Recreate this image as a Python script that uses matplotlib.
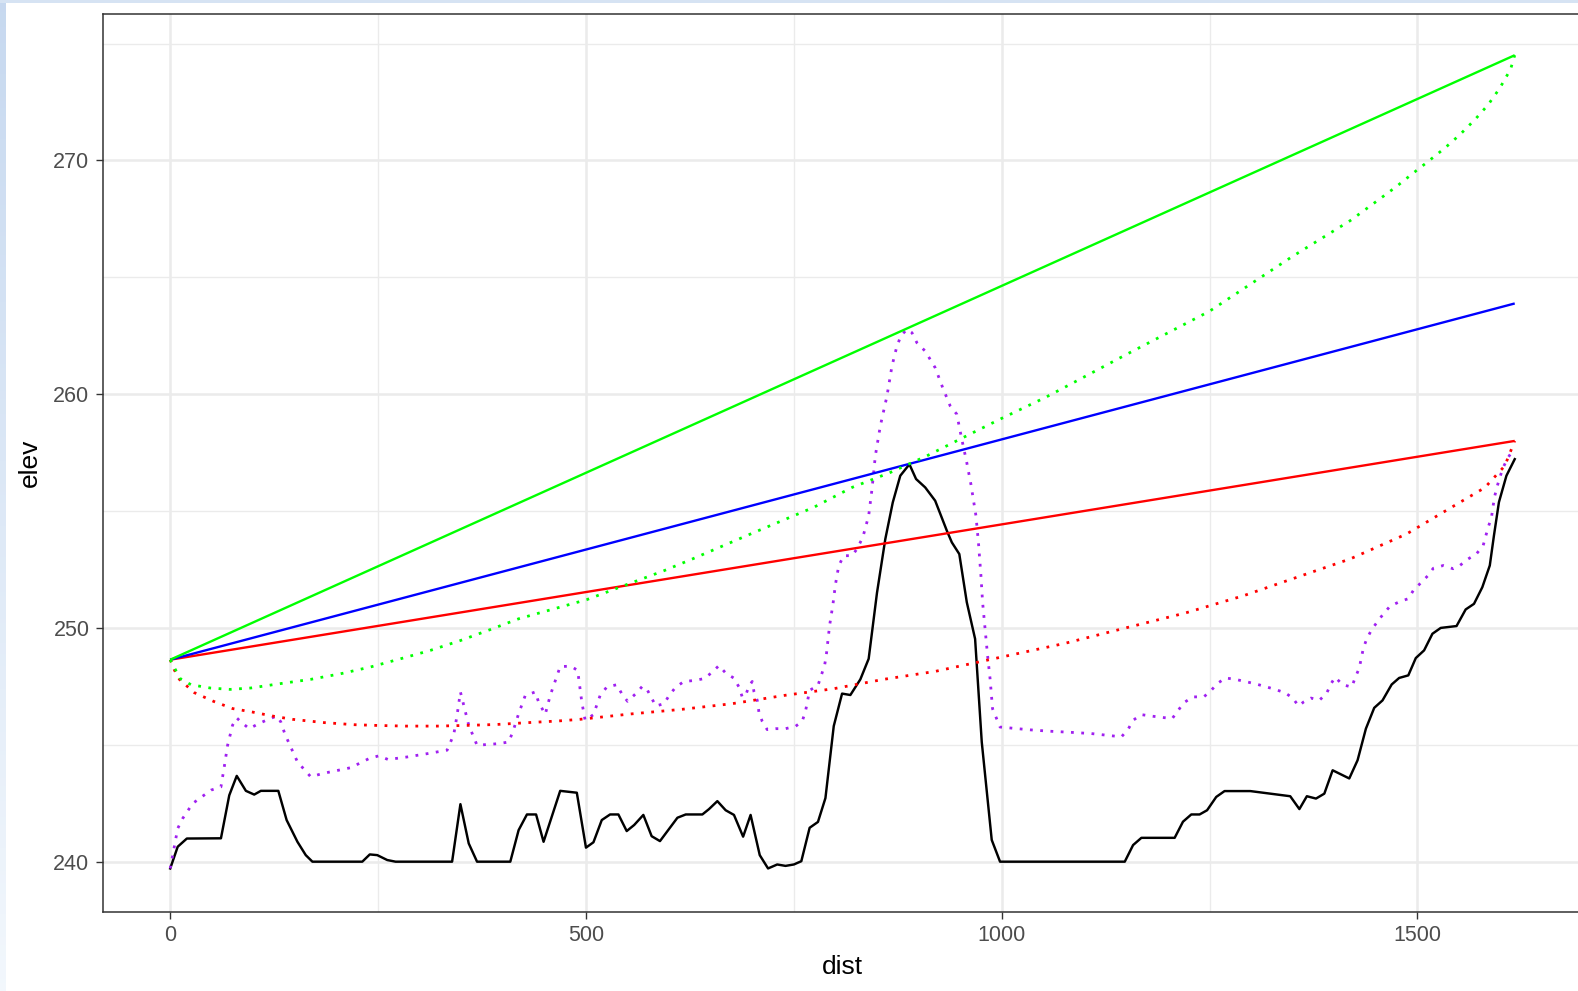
import matplotlib.pyplot as plt
import numpy as np

plt.rcParams['font.family'] = ['Liberation Sans', 'DejaVu Sans']

# ----------------------------------------------------------------------------
# terrain profile (black line)
dist = [0, 9, 20, 61, 71, 80, 91, 101, 109, 130, 140, 153, 163, 171, 231, 240,
        249, 261, 271, 339, 349, 359, 369, 409, 419, 429, 440, 449, 469, 489,
        500, 509, 519, 529, 539, 549, 558, 569, 579, 589, 610, 620, 640, 648,
        658, 668, 678, 689, 698, 709, 719, 730, 740, 750, 759, 769, 779, 788,
        798, 808, 818, 830, 840, 850, 860, 869, 878, 889, 897, 908, 920, 934,
        940, 949, 958, 968, 976, 988, 998, 1148, 1158, 1168, 1208, 1218, 1228,
        1238, 1247, 1258, 1268, 1299, 1347, 1358, 1367, 1378, 1388, 1398, 1418,
        1428, 1438, 1448, 1458, 1469, 1478, 1489, 1498, 1508, 1518, 1528, 1547,
        1558, 1568, 1578, 1587, 1592, 1598, 1607, 1617]
elev = [239.71, 240.64, 240.99, 241.0, 242.84, 243.67, 243.03, 242.87, 243.03,
        243.03, 241.78, 240.85, 240.28, 240.0, 240.0, 240.31, 240.28, 240.07,
        240.0, 240.0, 242.46, 240.78, 240.0, 240.0, 241.35, 242.02, 242.02,
        240.85, 243.03, 242.95, 240.6, 240.83, 241.78, 242.02, 242.02, 241.31,
        241.57, 242.0, 241.09, 240.88, 241.88, 242.02, 242.02, 242.25, 242.59,
        242.2, 242.0, 241.07, 242.0, 240.28, 239.71, 239.88, 239.82, 239.88,
        240.02, 241.45, 241.7, 242.72, 245.8, 247.19, 247.13, 247.8, 248.68,
        251.5, 253.8, 255.37, 256.51, 257.0, 256.37, 256.01, 255.44, 254.16,
        253.66, 253.16, 251.1, 249.53, 245.12, 240.93, 240.0, 240.0, 240.71,
        241.02, 241.02, 241.71, 242.02, 242.02, 242.2, 242.77, 243.02, 243.02,
        242.8, 242.25, 242.8, 242.7, 242.91, 243.91, 243.56, 244.34, 245.69,
        246.58, 246.9, 247.58, 247.86, 247.97, 248.71, 249.04, 249.75, 250.0,
        250.08, 250.79, 251.03, 251.74, 252.67, 253.95, 255.38, 256.51, 257.22]

# terrain + clearance (purple dotted)
clear_dist = [0, 9, 15, 27, 49, 61, 65, 69, 75, 80, 85, 95, 105, 116, 128, 133,
              138, 153, 169, 183, 217, 239, 251, 262, 285, 309, 333, 341, 345,
              349, 353, 359, 369, 395, 407, 412, 419, 427, 439, 443, 451, 457,
              465, 469, 482, 490, 495, 499, 509, 517, 525, 537, 543, 550, 560,
              568, 574, 584, 594, 600, 608, 618, 630, 642, 651, 660, 668, 678,
              684, 688, 692, 696, 700, 702, 706, 708, 712, 718, 728, 740, 752,
              760, 764, 769, 779, 783, 787, 789, 793, 797, 800, 804, 810, 820,
              826, 833, 840, 844, 848, 854, 862, 868, 874, 879, 886, 892, 898,
              908, 920, 929, 938, 946, 952, 958, 963, 969, 972, 975, 977, 980,
              983, 986, 989, 998, 1010, 1034, 1058, 1080, 1108, 1144, 1152,
              1158, 1168, 1182, 1205, 1211, 1219, 1230, 1243, 1251, 1259, 1269,
              1281, 1305, 1329, 1341, 1350, 1357, 1363, 1372, 1382, 1391, 1396,
              1401, 1410, 1421, 1425, 1430, 1435, 1439, 1445, 1455, 1467, 1479,
              1489, 1495, 1505, 1513, 1519, 1531, 1543, 1551, 1561, 1571, 1579,
              1585, 1589, 1591, 1593, 1596, 1599, 1603, 1609, 1614, 1617]
clear_elev = [239.71, 241.42, 241.85, 242.49, 243.06, 243.2, 244.06, 244.98,
              245.84, 246.15, 245.98, 245.69, 245.88, 246.06, 246.23, 245.98,
              245.45, 244.27, 243.63, 243.77, 244.02, 244.41, 244.53, 244.37,
              244.48, 244.62, 244.77, 245.44, 246.27, 247.26, 246.69, 245.84,
              244.98, 245.05, 245.12, 245.55, 246.33, 247.11, 247.26, 246.83,
              246.3, 247.11, 247.94, 248.35, 248.36, 248.18, 246.83, 246.05,
              246.29, 247.11, 247.47, 247.57, 247.19, 246.86, 247.19, 247.51,
              247.33, 246.66, 246.76, 247.11, 247.47, 247.71, 247.75, 247.83,
              248.08, 248.39, 248.07, 247.85, 247.47, 247.04, 247.11, 247.51,
              247.71, 247.28, 246.9, 246.4, 246.0, 245.65, 245.69, 245.69,
              245.79, 246.0, 246.43, 247.33, 247.54, 247.97, 248.4, 248.82,
              250.1, 251.0, 251.85, 252.66, 253.09, 253.09, 253.38, 253.88,
              254.8, 255.94, 257.36, 258.64, 259.92, 261.2, 262.06, 262.51,
              262.77, 262.63, 262.2, 261.84, 261.13, 260.28, 259.5, 259.14,
              258.07, 257.07, 256.14, 254.8, 253.66, 252.24, 251.1, 249.96,
              248.82, 247.83, 246.54, 245.76, 245.72, 245.64, 245.58, 245.54,
              245.48, 245.34, 245.66, 246.05, 246.29, 246.22, 246.12, 246.41,
              246.8, 247.05, 247.05, 247.29, 247.61, 247.86, 247.8, 247.61,
              247.37, 247.22, 247.0, 246.66, 246.83, 247.0, 246.9, 247.22,
              247.61, 247.89, 247.57, 247.47, 247.86, 248.28, 249.14, 249.53,
              249.93, 250.42, 250.93, 251.13, 251.25, 251.6, 251.96, 252.25,
              252.55, 252.67, 252.53, 252.67, 252.95, 253.17, 253.52, 254.3,
              254.72, 255.22, 255.65, 256.07, 256.43, 256.86, 257.29, 257.55,
              257.5]

# sight lines (solid) - start / end only
line_dist = [0, 1617]
green_elev = [248.64, 274.5]
blue_elev = [248.64, 263.88]
red_elev = [248.64, 258.0]

# sight lines minus zone radius (dotted)
red_zone_dist = [0, 5, 11, 29, 52, 75, 99, 123, 147, 185, 221, 247, 283, 321,
                 357, 393, 431, 467, 493, 554, 616, 676, 738, 798, 858, 920,
                 1076, 1148, 1221, 1291, 1361, 1419, 1487, 1541, 1581, 1605,
                 1617]
red_zone_elev = [248.64, 248.2, 247.8, 247.23, 246.86, 246.55, 246.4, 246.23,
                 246.09, 245.95, 245.86, 245.83, 245.8, 245.8, 245.83, 245.87,
                 245.95, 246.02, 246.09, 246.32, 246.52, 246.76, 247.11, 247.4,
                 247.8, 248.14, 249.34, 249.99, 250.64, 251.38, 252.24, 252.95,
                 254.02, 255.16, 256.0, 256.93, 258.0]

green_zone_dist = [0, 5, 12, 25, 48, 72, 97, 133, 169, 205, 241, 277, 313, 349,
                   385, 419, 455, 501, 548, 594, 628, 700, 774, 820, 866, 910,
                   954, 998, 1052, 1075, 1150, 1250, 1350, 1419, 1455, 1475,
                   1495, 1513, 1533, 1551, 1569, 1585, 1599, 1612, 1617]
green_zone_elev = [248.64, 248.3, 247.83, 247.57, 247.43, 247.37, 247.43,
                   247.62, 247.8, 248.04, 248.33, 248.68, 249.04, 249.46,
                   249.93, 250.39, 250.75, 251.21, 251.84, 252.45, 252.95,
                   254.05, 255.16, 256.01, 256.65, 257.36, 258.15, 258.93,
                   259.85, 260.28, 261.7, 263.55, 265.9, 267.42, 268.36,
                   268.89, 269.46, 269.96, 270.53, 271.1, 271.74, 272.38,
                   273.09, 273.9, 274.5]

x_major = [0, 500, 1000, 1500]
x_minor = [250, 750, 1250]
y_major = [240, 250, 260, 270]
y_minor = [245, 255, 265, 275]

# ----------------------------------------------------------------------------

W, H = 1578, 991
fig = plt.figure(figsize=(W / 100, H / 100), dpi=100)

# light blue window frame on left / top edge of the screenshot
frame = fig.add_axes([0, 0, 6 / W, 1])
grad = np.linspace(0, 1, 256).reshape(-1, 1)
c_top = np.array([0.78, 0.85, 0.94])
c_bot = np.array([0.95, 0.97, 0.99])
img = c_top * (1 - grad[..., None]) + c_bot * grad[..., None]
frame.imshow(img, aspect='auto', extent=[0, 1, 0, 1])
frame.axis('off')
top = fig.add_axes([0, 1 - 3 / H, 1, 3 / H])
top.set_facecolor('#d6e3f3')
top.set_xticks([])
top.set_yticks([])
for s in top.spines.values():
    s.set_visible(False)

# panel extends a few px beyond the right edge (cropped screenshot)
ax = fig.add_axes([103 / W, 79.3 / H, 1479 / W, 897.4 / H])

dots = (0, (1, 2.7))
ax.plot(dist, elev, color='black', lw=1.75, solid_joinstyle='round', zorder=3)
ax.plot(clear_dist, clear_elev, color='#A020F0', lw=2.0,
        linestyle=dots, dash_capstyle='butt', zorder=3)
ax.plot(line_dist, red_elev, color='#FF0000', lw=1.7, solid_capstyle='butt', zorder=3)
ax.plot(red_zone_dist, red_zone_elev, color='#FF0000', lw=2.0,
        linestyle=dots, dash_capstyle='butt', zorder=3)
ax.plot(line_dist, blue_elev, color='#0000FF', lw=1.7, solid_capstyle='butt', zorder=3)
ax.plot(line_dist, green_elev, color='#00FF00', lw=1.7, solid_capstyle='butt', zorder=3)
ax.plot(green_zone_dist, green_zone_elev, color='#00FF00', lw=2.0,
        linestyle=dots, dash_capstyle='butt', zorder=3)

ax.set_xlim(-80.85, 1697.9)
ax.set_ylim(237.86, 276.25)

ax.set_xticks(x_major)
ax.set_xticks(x_minor, minor=True)
ax.set_yticks(y_major)
ax.set_yticks(y_minor, minor=True)
ax.grid(which='major', color='#EBEBEB', lw=1.8)
ax.grid(which='minor', color='#EBEBEB', lw=1.0)
ax.set_axisbelow(True)

ax.tick_params(which='major', length=4.8, width=1.0, color='#333333',
               labelcolor='#4D4D4D', labelsize=15.5, pad=5)
ax.tick_params(which='minor', length=0)
for s in ax.spines.values():
    s.set_color('#333333')
    s.set_linewidth(1.1)

ax.set_xlabel('dist', fontsize=19, labelpad=6)
ax.set_ylabel('elev', fontsize=19, labelpad=8)

fig.savefig('out.png', dpi=100)
